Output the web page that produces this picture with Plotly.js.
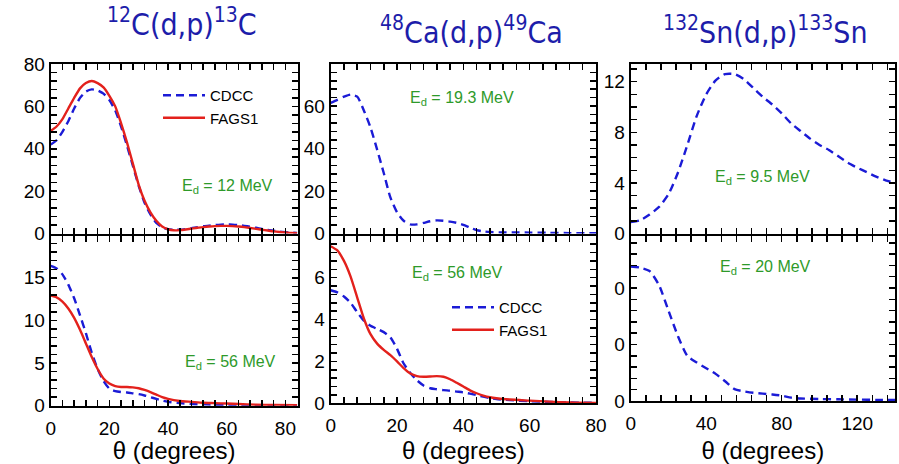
<!DOCTYPE html>
<html>
<head>
<meta charset="utf-8">
<script src="https://cdn.plot.ly/plotly-3.0.1.min.js"></script>
<style>html,body{margin:0;padding:0;background:#fff;}#chart{width:899px;height:464px;}</style>
</head>
<body>
<div id="chart"></div>
<script>
// ---------- DATA ----------
// 12C(d,p)13C, Ed = 12 MeV
const c12_e12_theta = [0,2,4,6,8,10,12,14,16,18,20,22,24,26,28,30,32,34,36,38,40,42,44,46,48,50,52,54,56,58,60,62,64,66,68,70,72,74,76,78,80,82,84];
const c12_e12_cdcc  = [42,44,48,53,59,64,67,68,67.5,66,63,58,50.5,41.5,32,22.5,14.5,9,5,3,2,1.7,1.8,2.1,2.5,3.0,3.4,3.7,4.0,4.2,4.3,4.2,4.0,3.6,3.2,2.7,2.2,1.7,1.3,0.9,0.6,0.4,0.3];
const c12_e12_fags1 = [48.5,50.5,54,59,64,68.5,71,72,71,69,65,60,52,43,33,23,15.5,10,6,3.3,2,1.5,1.6,1.9,2.3,2.7,3.0,3.3,3.5,3.6,3.6,3.5,3.3,3.0,2.6,2.2,1.8,1.4,1.0,0.7,0.5,0.3,0.2];
// 12C(d,p)13C, Ed = 56 MeV
const c12_e56_theta = [0,2,4,6,8,10,12,14,16,18,20,22,24,26,28,30,32,34,36,38,40,44,48,52,56,60,64,70,76,84];
const c12_e56_cdcc  = [16.4,16.1,15.4,14.2,12.6,10.6,8.5,6.2,4.3,2.9,2.0,1.7,1.6,1.55,1.45,1.35,1.2,1.0,0.8,0.6,0.45,0.3,0.2,0.15,0.1,0.08,0.05,0.03,0.02,0.01];
const c12_e56_fags1 = [12.9,12.7,12.2,11.4,10.3,8.9,7.3,5.7,4.3,3.2,2.6,2.3,2.2,2.2,2.15,2.05,1.85,1.6,1.3,1.0,0.8,0.55,0.45,0.35,0.3,0.25,0.2,0.12,0.08,0.05];
// 48Ca(d,p)49Ca, Ed = 19.3 MeV
const ca48_e19_theta = [0,2,4,6,8,10,12,14,16,18,20,22,24,26,28,30,32,34,36,38,40,42,44,46,48,52,56,60,66,72,80];
const ca48_e19_cdcc  = [61.6,63,64.5,65.5,64.5,58,50,39.5,28.5,17,10,6,4.3,4.3,5,5.8,6.2,6.0,5.6,5.0,4.1,2.8,1.6,1.0,0.7,0.5,0.5,0.4,0.3,0.2,0.1];
// 48Ca(d,p)49Ca, Ed = 56 MeV
const ca48_e56_theta = [0,2,4,6,8,10,12,14,16,18,20,22,24,26,28,30,32,34,36,38,40,42,44,46,48,50,54,60,66,72,80];
const ca48_e56_cdcc  = [5.4,5.3,5.1,4.8,4.35,3.95,3.7,3.55,3.4,3.15,2.6,1.9,1.45,1.1,0.85,0.72,0.67,0.63,0.6,0.56,0.52,0.46,0.39,0.32,0.25,0.2,0.15,0.1,0.07,0.04,0.02];
const ca48_e56_fags1 = [7.5,7.3,6.8,6.05,5.05,4.05,3.3,2.85,2.55,2.3,2.0,1.68,1.42,1.3,1.27,1.28,1.3,1.27,1.15,0.98,0.8,0.62,0.48,0.37,0.29,0.24,0.18,0.13,0.08,0.04,0.02];
// 132Sn(d,p)133Sn, Ed = 9.5 MeV
const sn132_e9_theta = [0,5,10,15,20,25,30,35,40,45,50,55,60,65,70,75,80,85,90,95,100,105,110,115,120,125,130,135,140];
const sn132_e9_cdcc  = [0.9,1.05,1.5,2.1,3.1,4.8,7.0,9.3,11.0,12.1,12.6,12.6,12.2,11.5,10.8,10.2,9.5,8.7,8.1,7.5,7.0,6.6,6.1,5.6,5.2,4.85,4.5,4.2,4.0];
// 132Sn(d,p)133Sn, Ed = 20 MeV
const sn132_e20_theta = [0,5,10,15,20,25,30,35,40,45,50,55,60,65,70,75,80,85,90,100,110,120,130,140];
const sn132_e20_cdcc  = [23.8,23.6,23,20.5,16,11.5,8,6.8,5.8,4.8,3.5,2.1,1.7,1.45,1.3,1.15,0.95,0.6,0.45,0.35,0.3,0.25,0.2,0.2];

const seriesNames = ['CDCC','FAGS1'];
const panelTitles = ['<sup>12</sup>C(d,p)<sup>13</sup>C','<sup>48</sup>Ca(d,p)<sup>49</sup>Ca','<sup>132</sup>Sn(d,p)<sup>133</sup>Sn'];
const energyLabels = ['E<sub>d</sub> = 12 MeV','E<sub>d</sub> = 56 MeV','E<sub>d</sub> = 19.3 MeV','E<sub>d</sub> = 56 MeV','E<sub>d</sub> = 9.5 MeV','E<sub>d</sub> = 20 MeV'];
const xTitle = '\u03b8 (degrees)';
// the right-bottom panel's tick labels are clipped to "0" in the reference
const sn20TickAlias = {'10': '0', '20': '0'};

// ---------- STYLE ----------
const W = 899, H = 464;
const fx = p => p / W;
const fy = p => 1 - p / H;
const BLUE = '#1b1bd6', RED = '#e3211c', GREEN = '#2e9a2a', TITLEBLUE = '#1d1daa';
const blueLine = {color: BLUE, width: 2.4, dash: '8px,5px', shape: 'spline', smoothing: 0.6};
const redLine  = {color: RED,  width: 2.4, shape: 'spline', smoothing: 0.6};

function tr(x, y, name, line, xa, ya, legend) {
  return {x: x, y: y, name: name, type: 'scatter', mode: 'lines', line: line,
          xaxis: xa, yaxis: ya, showlegend: !!legend, legend: legend || 'legend', hoverinfo: 'skip'};
}

const data = [
  tr(c12_e12_theta, c12_e12_cdcc, seriesNames[0], blueLine, 'x', 'y', 'legend'),
  tr(c12_e12_theta, c12_e12_fags1, seriesNames[1], redLine, 'x', 'y', 'legend'),
  tr(c12_e56_theta, c12_e56_cdcc, seriesNames[0], blueLine, 'x2', 'y2'),
  tr(c12_e56_theta, c12_e56_fags1, seriesNames[1], redLine, 'x2', 'y2'),
  tr(ca48_e19_theta, ca48_e19_cdcc, seriesNames[0], blueLine, 'x3', 'y3'),
  tr(ca48_e56_theta, ca48_e56_cdcc, seriesNames[0], blueLine, 'x4', 'y4', 'legend2'),
  tr(ca48_e56_theta, ca48_e56_fags1, seriesNames[1], redLine, 'x4', 'y4', 'legend2'),
  tr(sn132_e9_theta, sn132_e9_cdcc, seriesNames[0], blueLine, 'x5', 'y5'),
  tr(sn132_e20_theta, sn132_e20_cdcc, seriesNames[0], blueLine, 'x6', 'y6')
];

const tickFont = {family: 'Liberation Sans, Arial, sans-serif', size: 19, color: '#000'};
// every tick is drawn at the fine spacing; labels only every `labelStep` ticks
function ax(domain, range, tickStep, labelStep, anchor, showLabels, extra) {
  return Object.assign({
    domain: domain, range: range, anchor: anchor,
    tickmode: 'linear', tick0: 0, dtick: tickStep, ticklabelstep: labelStep,
    showticklabels: showLabels,
    showline: true, linecolor: '#000', linewidth: 2, mirror: 'ticks',
    ticks: 'inside', ticklen: 6, tickwidth: 1.5, tickcolor: '#000',
    showgrid: false, zeroline: false, tickfont: tickFont, fixedrange: true
  }, extra || {});
}
const xTitleObj = {text: xTitle, font: {family: 'Liberation Sans, Arial, sans-serif', size: 24, color: '#000'}, standoff: 12};
const xExtra = {title: xTitleObj, ticklabelstandoff: 4};

const colX = [[fx(50.7), fx(297.7)], [fx(330.7), fx(596)], [fx(630.7), fx(895)]];
const topY = [fy(233.5), fy(64)];
const botY = [[fy(405.7), fy(236)], [fy(403.3), fy(236)], [fy(401), fy(236)]];

const legendFont = {family: 'Liberation Sans, Arial, sans-serif', size: 15, color: '#000'};
const layout = {
  width: W, height: H,
  margin: {l: 0, r: 0, t: 0, b: 0},
  paper_bgcolor: '#fff', plot_bgcolor: '#fff',
  font: {family: 'Liberation Sans, Arial, sans-serif', color: '#000'},
  xaxis:  ax(colX[0], [0, 84.2], 4, 5, 'y', false),
  yaxis:  ax(topY, [0, 80], 4, 5, 'x', true),
  xaxis2: ax(colX[0], [0, 84.2], 4, 5, 'y2', true, xExtra),
  yaxis2: ax(botY[0], [0, 19.9], 1, 5, 'x2', true),
  xaxis3: ax(colX[1], [0, 80], 4, 5, 'y3', false),
  yaxis3: ax(topY, [0, 79.9], 4, 5, 'x3', true),
  xaxis4: ax(colX[1], [0, 80], 4, 5, 'y4', true, xExtra),
  yaxis4: ax(botY[1], [0, 7.99], 0.4, 5, 'x4', true),
  xaxis5: ax(colX[2], [0, 140], 8, 5, 'y5', false),
  yaxis5: ax(topY, [0, 13.4], 1, 4, 'x5', true),
  xaxis6: ax(colX[2], [0, 140], 8, 5, 'y6', true, xExtra),
  yaxis6: ax(botY[2], [0, 29.2], 2, 5, 'x6', true, {labelalias: sn20TickAlias}),
  legend: {x: fx(158), y: fy(79), xanchor: 'left', yanchor: 'top', bgcolor: 'rgba(0,0,0,0)',
           font: legendFont, traceorder: 'normal', tracegroupgap: 0, itemwidth: 42},
  legend2: {x: fx(447), y: fy(291), xanchor: 'left', yanchor: 'top', bgcolor: 'rgba(0,0,0,0)',
           font: legendFont, traceorder: 'normal', tracegroupgap: 0, itemwidth: 42},
  annotations: []
};

// panel titles
const titlePos = [[182, 22], [471, 30], [765, 30]];
panelTitles.forEach((t, i) => layout.annotations.push({
  text: t, xref: 'paper', yref: 'paper', x: fx(titlePos[i][0]), y: fy(titlePos[i][1]),
  xanchor: 'center', yanchor: 'middle', showarrow: false,
  font: {family: 'DejaVu Sans Condensed, DejaVu Sans, sans-serif', size: 30, color: TITLEBLUE}
}));
// energy labels
const ePos = [[227, 187], [230, 362], [462, 98], [457, 273], [762, 177], [765, 267]];
energyLabels.forEach((t, i) => layout.annotations.push({
  text: t, xref: 'paper', yref: 'paper', x: fx(ePos[i][0]), y: fy(ePos[i][1]),
  xanchor: 'center', yanchor: 'middle', showarrow: false,
  font: {family: 'Liberation Sans, Arial, sans-serif', size: 16, color: GREEN}
}));

Plotly.newPlot('chart', data, layout, {displayModeBar: false, staticPlot: true});
</script>
</body>
</html>
